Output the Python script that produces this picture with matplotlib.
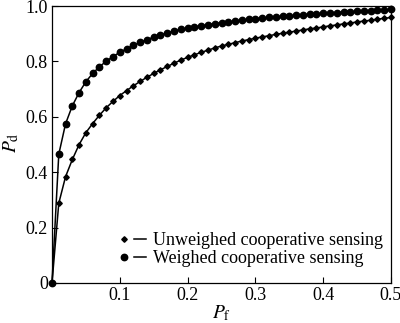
import numpy as np
import matplotlib
matplotlib.use("Agg")
import matplotlib.pyplot as plt
from matplotlib.lines import Line2D
from matplotlib.legend_handler import HandlerTuple

plt.rcParams['font.family'] = ['Liberation Serif', 'DejaVu Serif']
plt.rcParams['mathtext.fontset'] = 'stix'

# false-alarm probability grid (step 0.01)
pf = [round(0.01 * i, 2) for i in range(51)]

# detection probability, unweighed cooperative sensing
pd_unweighed = [0.000, 0.288, 0.384, 0.446, 0.500, 0.543, 0.576, 0.606, 0.633, 0.656,
                0.677, 0.695, 0.712, 0.728, 0.743, 0.757, 0.770, 0.782, 0.794, 0.805,
                0.815, 0.824, 0.833, 0.841, 0.849, 0.856, 0.862, 0.868, 0.874, 0.879,
                0.884, 0.889, 0.893, 0.898, 0.902, 0.906, 0.910, 0.914, 0.918, 0.921,
                0.925, 0.929, 0.932, 0.936, 0.939, 0.943, 0.946, 0.949, 0.953, 0.956,
                0.959]

# detection probability, weighed cooperative sensing
pd_weighed = [0.000, 0.465, 0.575, 0.640, 0.688, 0.727, 0.757, 0.781, 0.801, 0.818,
              0.833, 0.846, 0.858, 0.869, 0.879, 0.888, 0.896, 0.903, 0.910, 0.916,
              0.921, 0.925, 0.929, 0.933, 0.937, 0.940, 0.943, 0.946, 0.949, 0.952,
              0.955, 0.957, 0.959, 0.961, 0.963, 0.965, 0.967, 0.969, 0.971, 0.973,
              0.974, 0.976, 0.977, 0.979, 0.980, 0.981, 0.983, 0.984, 0.985, 0.986,
              0.988]

labels = ['Unweighed cooperative sensing', 'Weighed cooperative sensing']

fig = plt.figure(figsize=(4.0, 3.23), dpi=100)
ax = fig.add_axes([0.13, 0.124, 0.8475, 0.857])

ax.plot(pf, pd_unweighed, color='black', lw=1.1, marker='D', ms=2.8, clip_on=False)
ax.plot(pf, pd_weighed, color='black', lw=1.1, marker='o', ms=4.6, clip_on=False)

ax.set_xlim(0, 0.5)
ax.set_ylim(0, 1.0)
ax.set_xticks([0.1, 0.2, 0.3, 0.4, 0.5])
ax.set_xticklabels(['0.1', '0.2', '0.3', '0.4', '0.5'])
ax.set_yticks([0, 0.2, 0.4, 0.6, 0.8, 1.0])
ax.set_yticklabels(['0', '0.2', '0.4', '0.6', '0.8', '1.0'])
ax.tick_params(direction='in', length=4, width=0.8, labelsize=13, pad=3)
for s in ax.spines.values():
    s.set_linewidth(0.9)

ax.set_xlabel(r'$P_\mathrm{f}$', fontsize=14)
ax.set_ylabel(r'$P_\mathrm{d}$', fontsize=14)
ax.xaxis.set_label_coords(0.5, -0.108)
ax.yaxis.set_label_coords(-0.12, 0.505)
ax.xaxis.label.set_va('center')
ax.yaxis.label.set_va('center')

h = []
for mk, ms in (('D', 2.8), ('o', 4.6)):
    m = Line2D([], [], color='black', marker=mk, ms=ms, lw=0)
    l = Line2D([], [], color='black', lw=1.1)
    h.append((m, l))
ax.legend(h, labels, handler_map={tuple: HandlerTuple(ndivide=None, pad=0.2)},
          loc='lower right', bbox_to_anchor=(1.013, 0.012), frameon=False,
          fontsize=13, handlelength=1.5, handletextpad=0.4,
          labelspacing=0.05, borderpad=0.2)

fig.savefig('out.png', dpi=100)
